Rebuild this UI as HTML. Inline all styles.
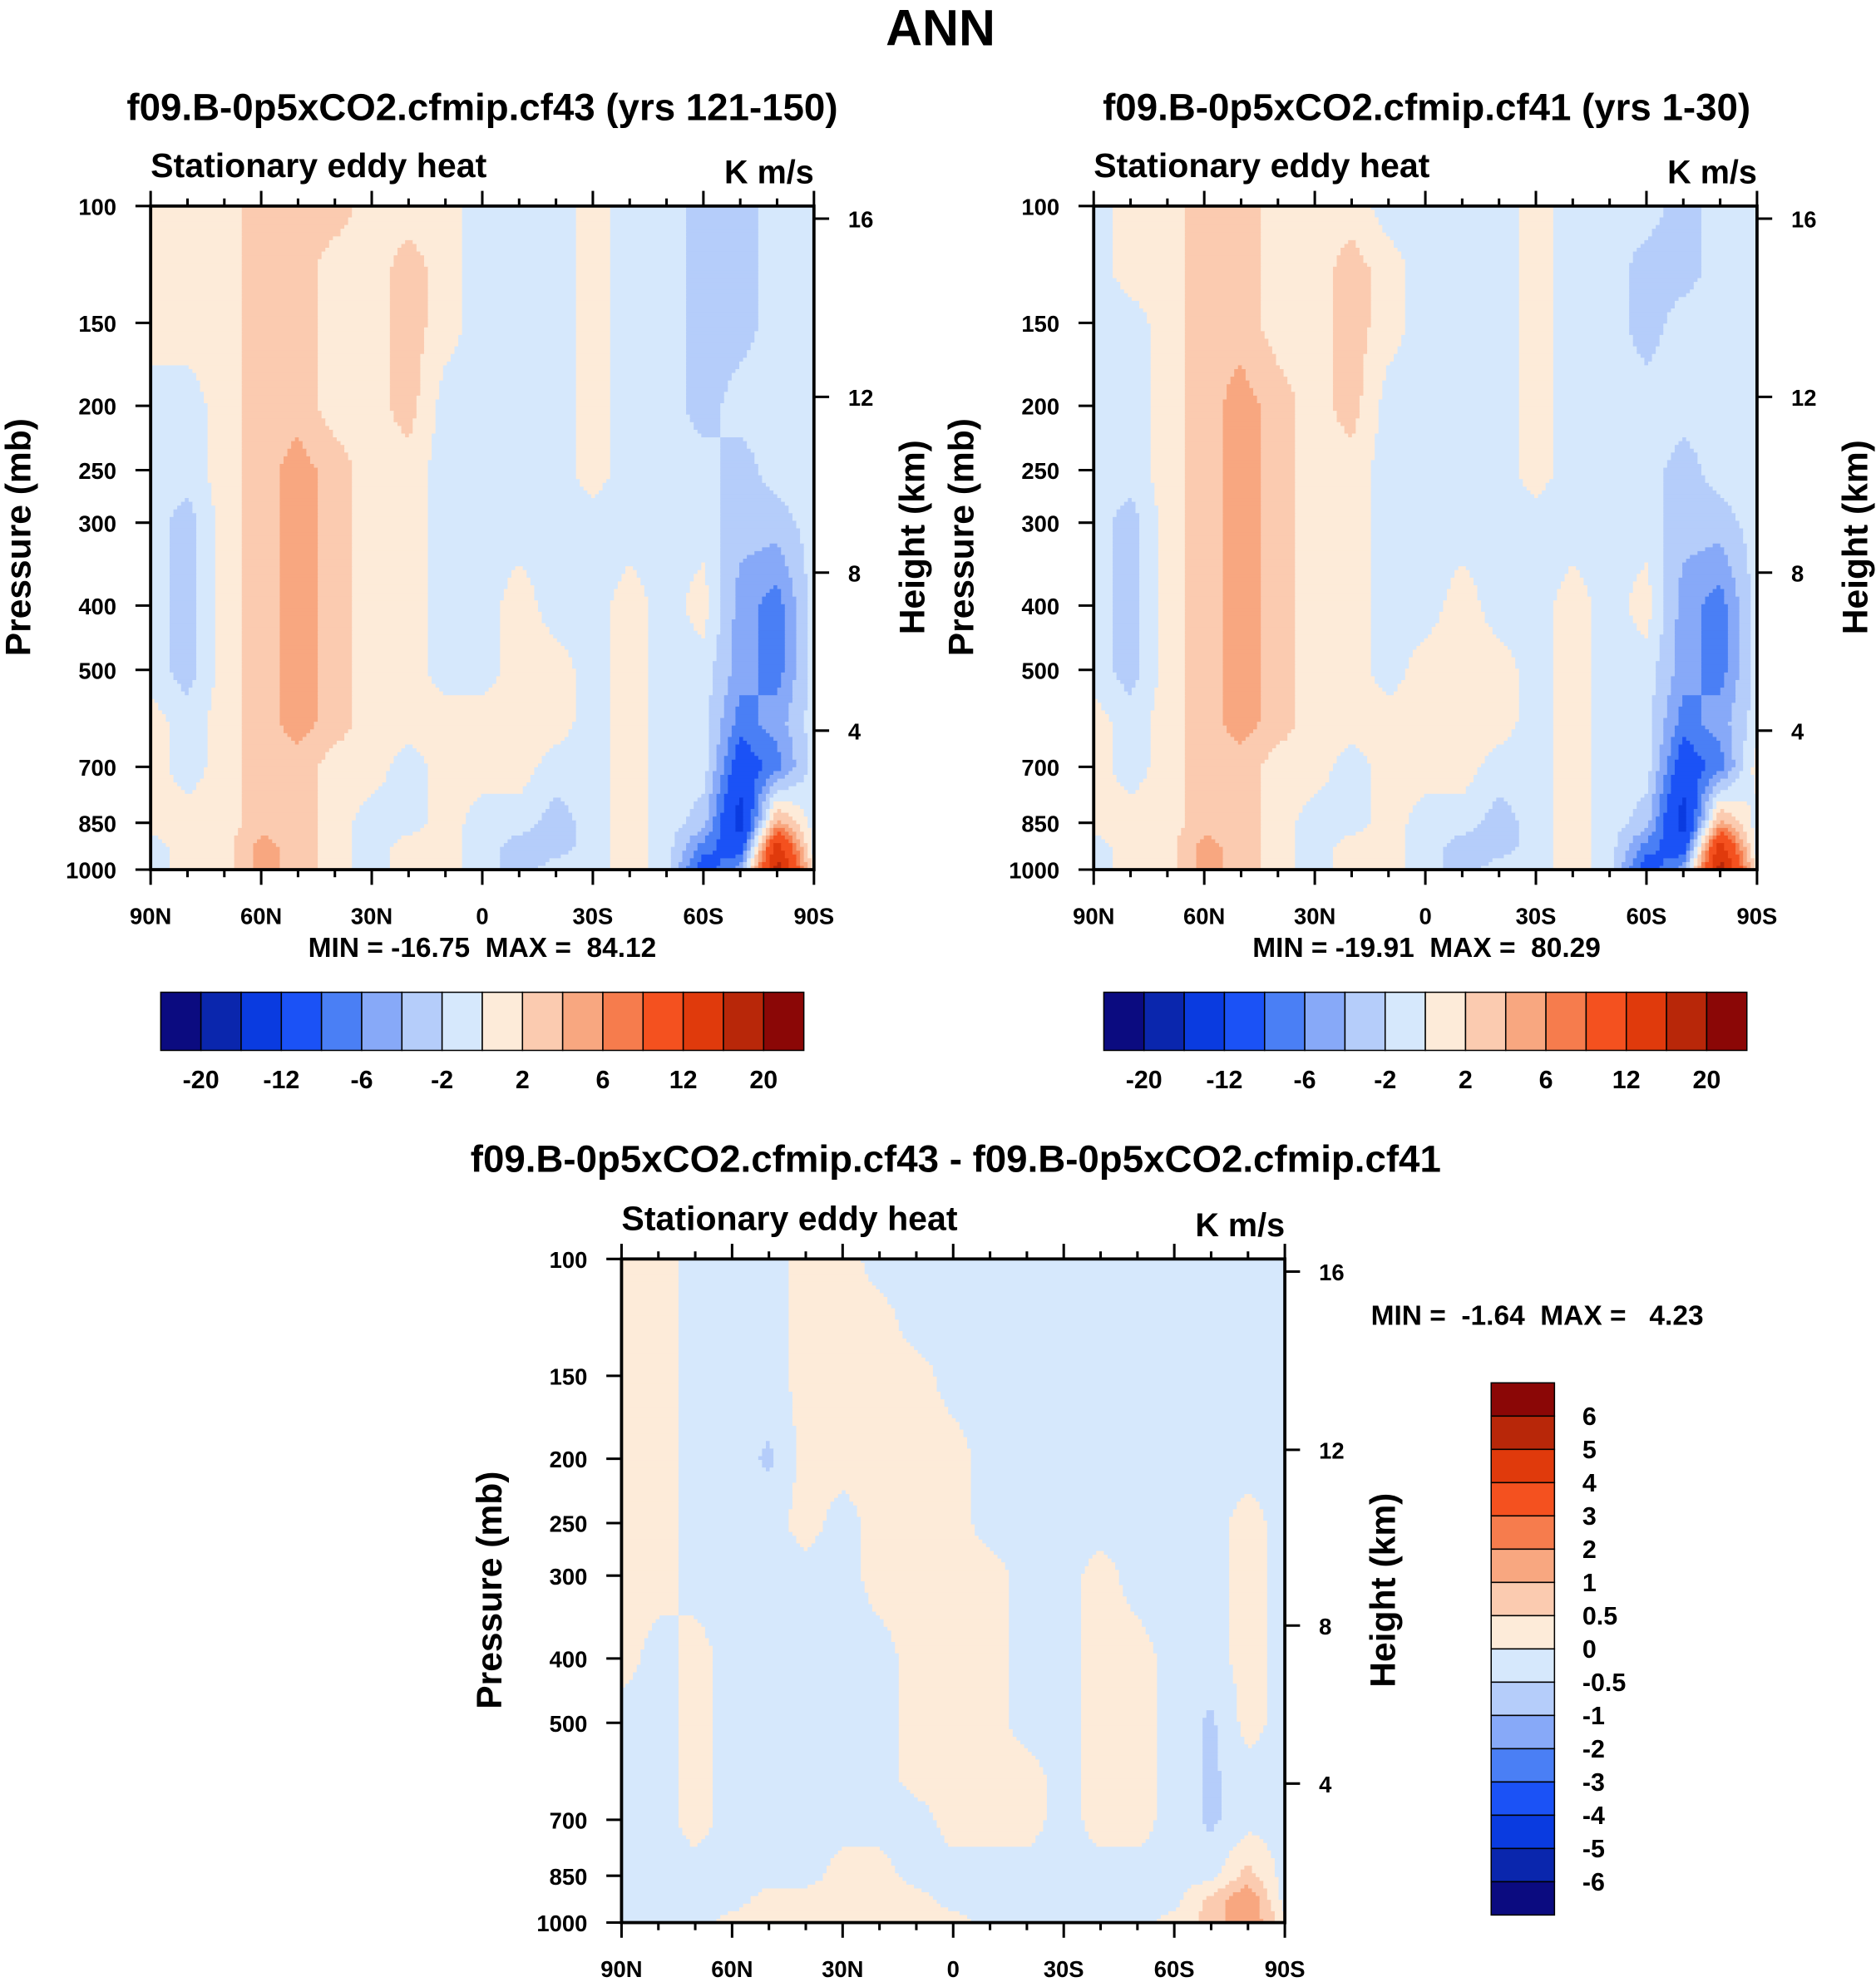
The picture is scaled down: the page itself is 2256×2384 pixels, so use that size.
<!DOCTYPE html>
<html><head><meta charset="utf-8">
<style>
html,body{margin:0;padding:0;background:#fff;}
svg{display:block;font-family:"Liberation Sans",Arial,sans-serif;font-weight:bold;}
</style></head>
<body>
<svg id="root" width="2256" height="2384" viewBox="0 0 1482 1568" preserveAspectRatio="none" xmlns="http://www.w3.org/2000/svg">
<rect width="1482" height="1568" fill="#fff"/>
<text x="743" y="36" font-size="40" text-anchor="middle">ANN</text>
</svg>
<script>
// ---- data ----
const lats = [90,80,70,60,50,40,30,20,10,0,-10,-20,-30,-40,-50,-60,-70,-80,-90];
const levels = [100,125,150,200,250,300,400,500,600,700,850,925,1000];
const pTicks = [100,150,200,250,300,400,500,700,850,1000];
const kmTicks = [16,12,8,4];
const kmTickY = [173,314,453,578];
const latTicks = ["90N","60N","30N","0","30S","60S","90S"];
const latTickVals = [90,60,30,0,-30,-60,-90];
const colors = ["#0b0b80","#0a26ad","#0a3be0","#1b52f6","#4a7ff5","#87a9f8","#b5cdfa","#d6e8fc","#fdebd9","#fbcbb0","#f8a780","#f67c4d","#f4511f","#e03a0c","#b82709","#8b0706"];
const levA = [-20,-16,-12,-8,-6,-4,-2,0,2,4,6,8,12,16,20];
const labA = ["-20","-12","-6","-2","2","6","12","20"];
const levB = [-6,-5,-4,-3,-2,-1,-0.5,0,0.5,1,2,3,4,5,6];
const labB = ["6","5","4","3","2","1","0.5","0","-0.5","-1","-2","-3","-4","-5","-6"];
const data1 = [
[1,1,1,3,3,3,1,1,1,-1,-1,-1,1,-1,-1,-3,-3,-1,-1],
[1,1,1,3,3,1,1,3,1,-1,-1,-1,1,-1,-1,-3,-3,-1,-1],
[1,1,1,3,3,1,1,3,1,-1,-1,-1,1,-1,-1,-3,-3,-1,-1],
[-1,-1,1,3,3,1,1,3,-1,-1,-1,-1,1,-1,-1,-3,-1,-1,-1],
[-1,-1,1,3,5,3,1,1,-1,-1,-1,-1,1,-1,-1,-1,-3,-1,-1],
[-1,-3,1,3,5,3,1,1,-1,-1,-1,-1,-1,-1,-1,-1,-3,-3,-1],
[-1,-3,1,3,5,3,1,1,-1,-1,1,-1,-1,1,-1,1,-5,-7,-1],
[-1,-3,1,3,5,3,1,1,-1,-1,1,1,-1,1,-1,-1,-5,-7,-1],
[1,-1,1,3,5,3,1,1,1,1,1,1,-1,1,-1,-1,-7,-5,-1],
[1,-1,1,3,3,1,1,-1,1,1,1,-1,-1,1,-1,-1,-10,-7,-1],
[1,1,1,3,3,1,-1,-1,1,-1,-1,-3,-1,1,-1,-3,-14,5,-1],
[-1,1,1,5,3,1,-1,1,1,-1,-3,-3,-1,1,-1,-7,-10,14,-1],
[-1,1,1,5,3,1,-1,1,1,-1,-3,-1,-1,1,-1,-10,-5,18,1]];
const data2 = [
[-1,1,1,3,3,1,1,1,-1,-1,-1,-1,1,-1,-1,-1,-3,-1,-1],
[-1,1,1,3,3,1,1,3,1,-1,-1,-1,1,-1,-1,-3,-3,-1,-1],
[-1,-1,1,3,3,1,1,3,1,-1,-1,-1,1,-1,-1,-3,-1,-1,-1],
[-1,-1,1,3,5,3,1,3,-1,-1,-1,-1,1,-1,-1,-1,-1,-1,-1],
[-1,-1,1,3,5,3,1,1,-1,-1,-1,-1,1,-1,-1,-1,-3,-1,-1],
[-1,-3,1,3,5,3,1,1,-1,-1,-1,-1,-1,-1,-1,-1,-3,-3,-1],
[-1,-3,1,3,5,3,1,1,-1,-1,1,-1,-1,1,-1,1,-5,-7,-1],
[-1,-3,1,3,5,3,1,1,-1,1,1,1,-1,1,-1,-1,-5,-7,-1],
[1,-1,1,3,5,3,1,1,1,1,1,1,-1,1,-1,-1,-7,-5,-1],
[1,-1,1,3,3,1,1,-1,1,1,1,-1,-1,1,-1,-1,-10,-7,1],
[1,1,1,3,3,1,-1,-1,1,-1,-1,-3,-1,1,-1,-3,-14,5,-1],
[-1,1,1,5,3,1,-1,1,1,-1,-3,-3,-1,1,-1,-7,-10,14,-1],
[-1,1,1,5,3,1,-1,1,1,-1,-3,-1,-1,1,-1,-10,-5,18,1]];
const data3 = [
[.2,.2,-.2,-.2,-.2,.2,.2,-.2,-.2,-.2,-.2,-.2,-.2,-.2,-.2,-.2,-.2,-.2,-.2],
[.2,.2,-.2,-.2,-.2,.2,.2,.2,-.2,-.2,-.2,-.2,-.2,-.2,-.2,-.2,-.2,-.2,-.2],
[.2,.2,-.2,-.2,-.2,.2,.2,.2,.2,-.2,-.2,-.2,-.2,-.2,-.2,-.2,-.2,-.2,-.2],
[.2,.2,-.2,-.2,-.6,.2,.2,.2,.2,.2,-.2,-.2,-.2,-.2,-.2,-.2,-.2,-.2,-.2],
[.2,.2,-.2,-.2,-.2,.2,-.2,.2,.2,.2,-.2,-.2,-.2,-.2,-.2,-.2,-.2,.2,-.2],
[.2,.2,-.2,-.2,-.2,-.2,-.2,.2,.2,.2,.2,-.2,-.2,.2,-.2,-.2,-.2,.2,-.2],
[.2,-.2,.2,-.2,-.2,-.2,-.2,-.2,.2,.2,.2,-.2,-.2,.2,.2,-.2,-.2,.2,-.2],
[-.2,-.2,.2,-.2,-.2,-.2,-.2,-.2,.2,.2,.2,-.2,-.2,.2,.2,-.2,-.6,.2,-.2],
[-.2,-.2,.2,-.2,-.2,-.2,-.2,-.2,.2,.2,.2,.2,-.2,.2,.2,-.2,-.6,-.2,-.2],
[-.2,-.2,.2,-.2,-.2,-.2,-.2,-.2,-.2,.2,.2,.2,-.2,.2,.2,-.2,-.6,-.2,-.2],
[-.2,-.2,-.2,-.2,-.2,-.2,.2,.2,-.2,-.2,-.2,-.2,-.2,-.2,-.2,-.2,-.2,.7,-.2],
[-.2,-.2,-.2,-.2,.2,.2,.2,.2,.2,-.2,-.2,-.2,-.2,-.2,-.2,-.2,.7,1.5,-.2],
[-.2,-.2,-.2,.2,.2,.2,.2,.2,.2,.2,-.2,-.2,-.2,-.2,-.2,.2,.7,1.5,.2]];

// ---- drawing ----
const NS="http://www.w3.org/2000/svg";
const root=document.getElementById('root');
function el(tag,attrs,parent){const e=document.createElementNS(NS,tag);for(const k in attrs)e.setAttribute(k,attrs[k]);(parent||root).appendChild(e);return e;}
function txt(x,y,s,size,anchor,parent,extra){const t=el('text',Object.assign({x:x,y:y,'font-size':size,'text-anchor':anchor||'start'},extra||{}),parent);t.textContent=s;return t;}
function colorIdx(v,lev){let i=0;while(i<lev.length&&v>=lev[i])i++;return i;}

function panel(P){
  const g=el('g',{});
  
  
  const X0=P.x,Y0=P.y,W=524,H=525;
  const xOf=lat=>X0+(90-lat)/180*W;
  const yOf=p=>Y0+(Math.log10(p)-2)*H;
  const tt=txt(P.tx,P.ty,P.title,P.tsize,'middle',g);
  
  const s1=txt(X0,Y0-23,'Stationary eddy heat',27,'start',g);
  
  const s2=txt(X0+W,Y0-18,'K m/s',26,'end',g);
  
  // field
  const lp=levels.map(p=>Math.log10(p));
  const fg=el('g',{},g);
  
  
  const step=3;
  const nx=Math.ceil(W/step);
  for(let py=0;py<H;py+=step){
    const l=2+Math.min(H,py+step/2)/H;
    let r=0;while(r<lp.length-2&&l>lp[r+1])r++;
    const ty=Math.min(1,Math.max(0,(l-lp[r])/(lp[r+1]-lp[r])));
    const cs=[];
    for(let k=0;k<nx;k++){
      const px=k*step+step/2;
      const lat=90-Math.min(px,W)/W*180;
      const ci=Math.min(17,Math.floor((90-lat)/10));
      const tx=Math.min(1,Math.max(0,(90-lat)/10-ci));
      const d=P.data;
      const v=(1-ty)*((1-tx)*d[r][ci]+tx*d[r][ci+1])+ty*((1-tx)*d[r+1][ci]+tx*d[r+1][ci+1]);
      cs.push(colorIdx(v,P.lev));
    }
    let k0=0;
    const hh=Math.min(step,H-py);
    for(let k=1;k<=nx;k++){
      if(k===nx||cs[k]!==cs[k0]){
        const x1=X0+k0*step, x2=X0+Math.min(W,k*step);
        const rc=el('rect',{x:x1,y:Y0+py,width:x2-x1+(k===nx?0:0.6),height:hh+(py+step<H?0.6:0),fill:colors[cs[k0]]},fg);
        
        
        k0=k;
      }
    }
  }
  el('rect',{x:X0,y:Y0,width:W,height:H,fill:'none',stroke:'#000','stroke-width':2.5},g);
  pTicks.forEach(p=>{const y=yOf(p);el('line',{x1:X0-12,y1:y,x2:X0,y2:y,stroke:'#000','stroke-width':2},g);
    const t=txt(X0-27,y+7,String(p),18,'end',g);});
  kmTicks.forEach((k,i)=>{const y=P.y+(kmTickY[i]-163);el('line',{x1:X0+W,y1:y,x2:X0+W+12,y2:y,stroke:'#000','stroke-width':2},g);
    const t=txt(X0+W+27,y+7,String(k),18,'start',g);});
  for(let la=90;la>=-90;la-=10){const x=xOf(la);const big=la%30===0;
    el('line',{x1:x,y1:Y0+H,x2:x,y2:Y0+H+(big?12:6),stroke:'#000','stroke-width':2},g);
    el('line',{x1:x,y1:Y0,x2:x,y2:Y0-(big?12:6),stroke:'#000','stroke-width':2},g);}
  latTicks.forEach((s,i)=>{const t=txt(xOf(latTickVals[i]),Y0+H+43,s,18,'middle',g);});
  const yl=txt(0,0,'Pressure (mb)',28,'middle',g,{transform:`translate(${X0-95},${Y0+262}) rotate(-90)`});
  
  const hl=txt(0,0,'Height (km)',28,'middle',g,{transform:`translate(${X0+W+87},${Y0+262}) rotate(-90)`});
  
  const m=txt(P.minmax[0],P.minmax[1],P.mmText,22,P.minmax[2],g);
  
  return g;
}
function hbar(x0,y0){
  const g=el('g',{});
  const w=508/16;
  colors.forEach((c,i)=>{const r=el('rect',{x:x0+i*w,y:y0,width:w,height:46,fill:c,stroke:'#000','stroke-width':1},g);
    });
  labA.forEach((s,i)=>{const t=txt(x0+(1+2*i)*w,y0+76,s,20,'middle',g);});
}
function vbar(x0,y0){
  const g=el('g',{});
  const h=421/16;
  colors.slice().reverse().forEach((c,i)=>{const r=el('rect',{x:x0,y:y0+i*h,width:50,height:h,fill:c,stroke:'#000','stroke-width':1},g);
    });
  labB.forEach((s,i)=>{const t=txt(x0+72,y0+(i+1)*h+7,s,20,'start',g);});
}
const S='\u00a0';
panel({name:'panel-cf43',x:119,y:163,tx:381,ty:95,tsize:30,title:'f09.B-0p5xCO2.cfmip.cf43 (yrs 121-150)',data:data1,lev:levA,minmax:[381,757,'middle'],mmText:'MIN = -16.75'+S+S+'MAX ='+S+S+'84.12'});
panel({name:'panel-cf41',x:864,y:163,tx:1127,ty:95,tsize:30,title:'f09.B-0p5xCO2.cfmip.cf41 (yrs 1-30)',data:data2,lev:levA,minmax:[1127,757,'middle'],mmText:'MIN = -19.91'+S+S+'MAX ='+S+S+'80.29'});
panel({name:'panel-difference',x:491,y:996,tx:755,ty:927,tsize:30,title:'f09.B-0p5xCO2.cfmip.cf43 - f09.B-0p5xCO2.cfmip.cf41',data:data3,lev:levB,minmax:[1083,1048,'start'],mmText:'MIN ='+S+S+'-1.64'+S+S+'MAX ='+S+S+S+'4.23'});
hbar(127,785);
hbar(872,785);
vbar(1178,1094);
</script>
</body></html>
